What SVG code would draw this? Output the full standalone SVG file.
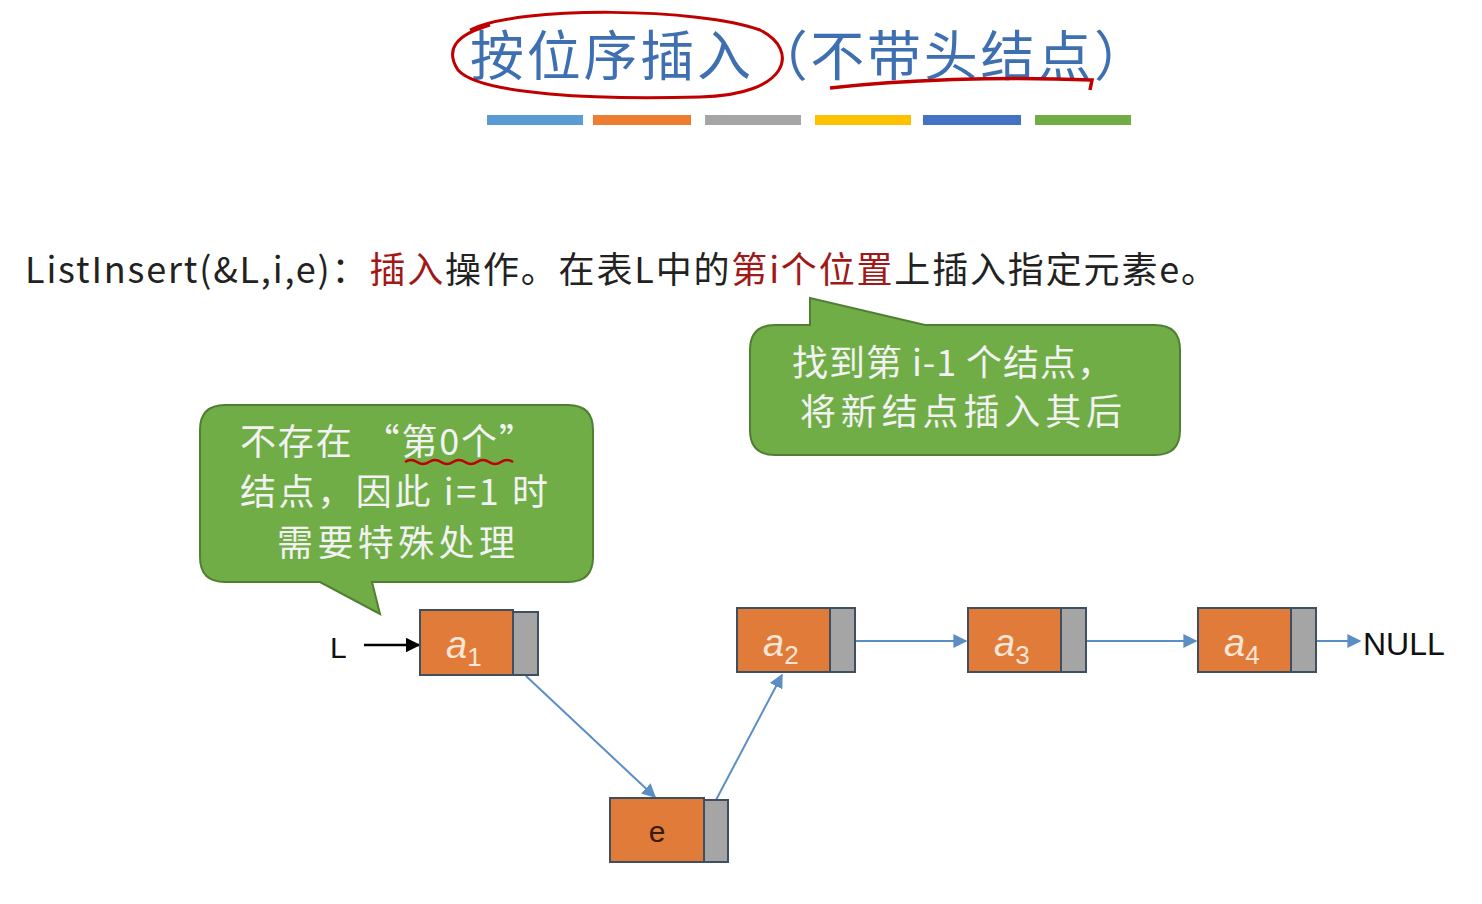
<svg xmlns="http://www.w3.org/2000/svg" width="1482" height="904" viewBox="0 0 1482 904">
<style>
.cn{font-family:"Noto Sans CJK SC","Liberation Sans",sans-serif}
.d{fill:#e07b39;stroke:#3f4f60;stroke-width:2}
.p{fill:#a5a5a5;stroke:#3f4f60;stroke-width:2}
.lab{font-family:"Liberation Sans",sans-serif;font-style:italic;fill:#fbe5d6;font-size:38px}
.sub{font-style:normal;font-size:26px}
.bub{fill:#70ad47;stroke:#507e32;stroke-width:2}
.bt{font-size:36px;fill:#f2f2f2}
.c{stroke:#5b8ec4;stroke-width:2;fill:none}
</style>
<defs>
<marker id="ab" viewBox="0 0 10 10" refX="9" refY="5" markerWidth="7" markerHeight="7" orient="auto"><path d="M0,0L10,5L0,10z" fill="#5b8ec4"/></marker>
<marker id="ak" viewBox="0 0 10 10" refX="9" refY="5" markerWidth="6" markerHeight="6" orient="auto"><path d="M0,0L10,5L0,10z" fill="#000"/></marker>
</defs>
<rect width="1482" height="904" fill="#fff"/>
<text x="470" y="76" class="cn" font-size="54" fill="#3e6fb0" textLength="678" lengthAdjust="spacing">按位序插入（不带头结点）</text>
<path d="M470,30 C520,5 700,8 760,30 C800,50 790,95 700,97 C600,100 480,95 458,70 C445,50 455,35 490,25" fill="none" stroke="#c00000" stroke-width="3"/>
<path d="M830,88 C900,80 1000,76 1092,80 L1090,90" fill="none" stroke="#c00000" stroke-width="3.5"/>
<g>
<rect x="487" y="115" width="96" height="10" fill="#5b9bd5"/>
<rect x="593" y="115" width="98" height="10" fill="#ed7d31"/>
<rect x="705" y="115" width="96" height="10" fill="#a5a5a5"/>
<rect x="815" y="115" width="96" height="10" fill="#ffc000"/>
<rect x="923" y="115" width="98" height="10" fill="#4472c4"/>
<rect x="1035" y="115" width="96" height="10" fill="#70ad47"/>
</g>
<text x="25" y="283" class="cn" font-size="36" fill="#222" textLength="1192" lengthAdjust="spacing">ListInsert(&amp;L,i,e)：<tspan fill="#a01818">插入</tspan>操作。在表L中的<tspan fill="#a01818">第i个位置</tspan>上插入指定元素e。</text>
<g id="callout1">
<path class="bub" d="M225,405 H568 Q593,405 593,430 V557 Q593,582 568,582 H372 L380,614 L320,582 H225 Q200,582 200,557 V430 Q200,405 225,405 Z"/>
<text class="cn bt" x="240" y="455" textLength="295" lengthAdjust="spacing">不存在 “第0个”</text>
<text class="cn bt" x="240" y="505" textLength="308" lengthAdjust="spacing">结点，因此 i=1 时</text>
<text class="cn bt" x="277" y="556" textLength="238" lengthAdjust="spacing">需要特殊处理</text>
<path d="M405,462 q6,-4 12,0 t12,0 t12,0 t12,0 t12,0 t12,0 t12,0 t12,0 t12,0" fill="none" stroke="#c00000" stroke-width="2.5"/>
</g>
<g id="callout2">
<path class="bub" d="M775,325 H810 L810,298 L925,325 H1155 Q1180,325 1180,350 V430 Q1180,455 1155,455 H775 Q750,455 750,430 V350 Q750,325 775,325 Z"/>
<text class="cn bt" x="792" y="376" textLength="321" lengthAdjust="spacing">找到第 i-1 个结点，</text>
<text class="cn bt" x="800" y="425" textLength="322" lengthAdjust="spacing">将新结点插入其后</text>
</g>
<g id="connectors">
<line x1="364" y1="645" x2="419" y2="645" stroke="#000" stroke-width="2.5" marker-end="url(#ak)"/>
<line class="c" x1="526" y1="676" x2="655" y2="797" marker-end="url(#ab)"/>
<line class="c" x1="716" y1="800" x2="782" y2="675" marker-end="url(#ab)"/>
<line class="c" x1="855" y1="641" x2="966" y2="641" marker-end="url(#ab)"/>
<line class="c" x1="1086" y1="641" x2="1196" y2="641" marker-end="url(#ab)"/>
<line class="c" x1="1316" y1="641" x2="1360" y2="641" marker-end="url(#ab)"/>
</g>
<text x="330" y="658" font-family="Liberation Sans,sans-serif" font-size="30" fill="#111">L</text>
<text x="1363" y="655" font-family="Liberation Sans,sans-serif" font-size="32" fill="#111">NULL</text>
<g id="a1"><rect class="d" x="420" y="610" width="93" height="65"/><rect class="p" x="513" y="612" width="25" height="63"/><text class="lab" x="446" y="658">a<tspan class="sub" dy="8">1</tspan></text></g>
<g id="a2"><rect class="d" x="737" y="608" width="93" height="64"/><rect class="p" x="830" y="608" width="25" height="64"/><text class="lab" x="763" y="656">a<tspan class="sub" dy="8">2</tspan></text></g>
<g id="a3"><rect class="d" x="968" y="608" width="93" height="64"/><rect class="p" x="1061" y="608" width="25" height="64"/><text class="lab" x="994" y="656">a<tspan class="sub" dy="8">3</tspan></text></g>
<g id="a4"><rect class="d" x="1198" y="608" width="93" height="64"/><rect class="p" x="1291" y="608" width="25" height="64"/><text class="lab" x="1224" y="656">a<tspan class="sub" dy="8">4</tspan></text></g>
<g id="e"><rect class="d" x="610" y="798" width="94" height="64"/><rect class="p" x="704" y="800" width="24" height="62"/><text x="657" y="842" text-anchor="middle" font-family="Liberation Sans,sans-serif" font-size="30" fill="#3a1a0a">e</text></g>
</svg>
